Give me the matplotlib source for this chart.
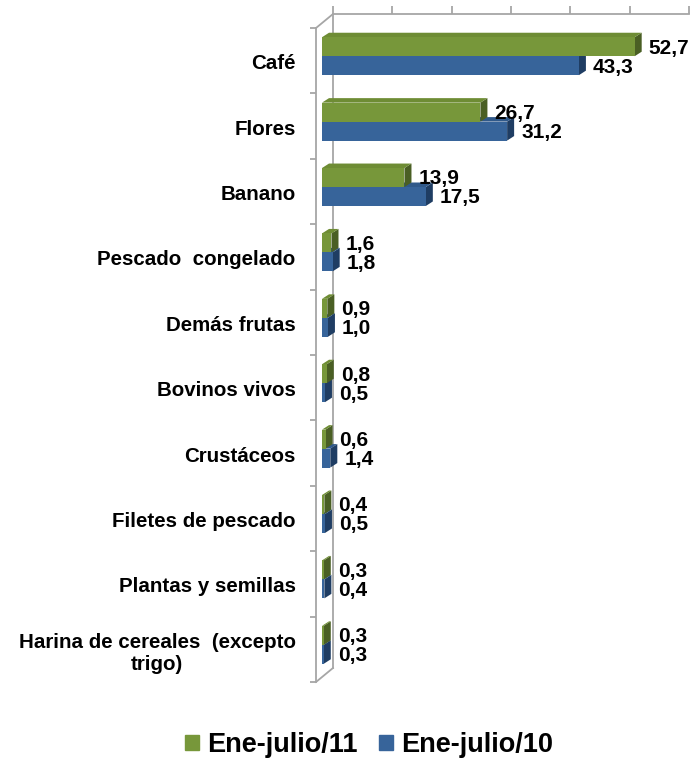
import matplotlib
matplotlib.use("Agg")
import matplotlib.pyplot as plt
from matplotlib.transforms import ScaledTranslation, blended_transform_factory
from matplotlib.lines import Line2D
from matplotlib.patches import Patch, Polygon
import matplotlib.markers as mmarkers
import numpy as np

categories = ["Café", "Flores", "Banano", "Pescado  congelado", "Demás frutas",
              "Bovinos vivos", "Crustáceos", "Filetes de pescado", "Plantas y semillas",
              "Harina de cereales  (excepto\ntrigo)"]
ene_jul_11 = [52.7, 26.7, 13.9, 1.6, 0.9, 0.8, 0.6, 0.4, 0.3, 0.3]
ene_jul_10 = [43.3, 31.2, 17.5, 1.8, 1.0, 0.5, 1.4, 0.5, 0.4, 0.3]
series_labels = ["Ene-julio/11", "Ene-julio/10"]
x_ticks = [0, 10, 20, 30, 40, 50, 60]

GREEN, GREEN_TOP, GREEN_D = "#77973A", "#6E8C34", "#4A5F24"
BLUE, BLUE_TOP, BLUE_D = "#37649A", "#30598A", "#1F3D63"
GRID = "#A6A6A6"
FONT = "Liberation Sans"

W, H, DPI = 690, 760, 100
fig = plt.figure(figsize=(W / DPI, H / DPI), dpi=DPI)
ax_l, ax_r = 322, 678
ax_t, ax_b = 23.5, 677.5
axw, axh = ax_r - ax_l, ax_b - ax_t
ax = fig.add_axes([ax_l / W, 1 - ax_b / H, axw / W, axh / H])
XMAX = 60
ax.set_xlim(0, XMAX)
ax.set_ylim(len(categories) - 0.5, -0.5)
for s in ax.spines.values():
    s.set_visible(False)
ax.set_xticks([])

y = np.arange(len(categories))
bh = 0.29
# depth of the 3D extrusion, in data units (7 px right, 4.5 px up)
ddx = 7 * XMAX / axw
ddy = 4.5 * len(categories) / axh


def px(dx, dy):
    return ScaledTranslation(dx / DPI, dy / DPI, fig.dpi_scale_trans)


def bar3d(yc, v, front, top, side, z):
    t, b = yc - bh / 2, yc + bh / 2
    ax.add_patch(Polygon([(v, t), (v + ddx, t - ddy), (v + ddx, b - ddy), (v, b)],
                         closed=True, facecolor=side, edgecolor="none", zorder=z))
    ax.add_patch(Polygon([(0, t), (v, t), (v + ddx, t - ddy), (ddx, t - ddy)],
                         closed=True, facecolor=top, edgecolor="none", zorder=z))
    ax.add_patch(Polygon([(0, t), (v, t), (v, b), (0, b)],
                         closed=True, facecolor=front, edgecolor="none", zorder=z))


for yi, v in zip(y + bh / 2, ene_jul_10):
    bar3d(yi, v, BLUE, BLUE_TOP, BLUE_D, 2)
for yi, v in zip(y - bh / 2, ene_jul_11):
    bar3d(yi, v, GREEN, GREEN_TOP, GREEN_D, 3)

# value labels
for ys, vals in ((y - bh / 2, ene_jul_11), (y + bh / 2, ene_jul_10)):
    for yi, v in zip(ys, vals):
        ax.annotate(f"{v:.1f}".replace(".", ","), xy=(v, yi), xytext=(10, -1),
                    textcoords="offset points", va="center", ha="left",
                    fontsize=15, fontweight="bold", family=FONT, zorder=5)

# category labels
ax.set_yticks(y)
ax.set_yticklabels(categories, fontsize=14.8, fontweight="bold", family=FONT,
                   multialignment="center")
ax.tick_params(axis="y", length=0, pad=19)
for lab in ax.get_yticklabels():
    lab.set_transform(lab.get_transform() + px(0, -5.5))

# 3D walls
back_off = (11, 9.5)
front_off = (-6, -4.5)
back = ax.transAxes + px(*back_off)
front = ax.transAxes + px(*front_off)
kw = dict(color=GRID, lw=1.3, clip_on=False, zorder=1)
ax.add_line(Line2D([0, 0], [0, 1], transform=back, **kw))
ax.add_line(Line2D([0, 0], [0, 1], transform=front, **kw))
ax.add_line(Line2D([0, 1], [1, 1], transform=back, **kw))
for yy in (0, 1):
    ax.add_line(Line2D([front_off[0] / axw, back_off[0] / axw],
                       [yy + front_off[1] / axh, yy + back_off[1] / axh],
                       transform=ax.transAxes, **kw))
top_tr = blended_transform_factory(ax.transData, ax.transAxes) + px(*back_off)
ax.plot(x_ticks, [1] * len(x_ticks), ls="none", marker=mmarkers.TICKUP, ms=6,
        mew=1.3, color=GRID, transform=top_tr, clip_on=False, zorder=1)
front_tr = blended_transform_factory(ax.transAxes, ax.transData) + px(*front_off)
bounds = np.arange(len(categories) + 1) - 0.5
ax.plot([0] * len(bounds), bounds, ls="none", marker=mmarkers.TICKLEFT, ms=4,
        mew=1.3, color=GRID, transform=front_tr, clip_on=False, zorder=1)

handles = [Patch(color=GREEN, label=series_labels[0]), Patch(color=BLUE, label=series_labels[1])]
fig.legend(handles=handles, loc="center", bbox_to_anchor=(0.535, 1 - 745 / H), ncol=2,
           frameon=False, prop=dict(family=FONT, weight="bold", size=19.5),
           handlelength=0.5, handleheight=0.5, handletextpad=0.3, columnspacing=0.8)

fig.savefig("out.png", dpi=DPI)
